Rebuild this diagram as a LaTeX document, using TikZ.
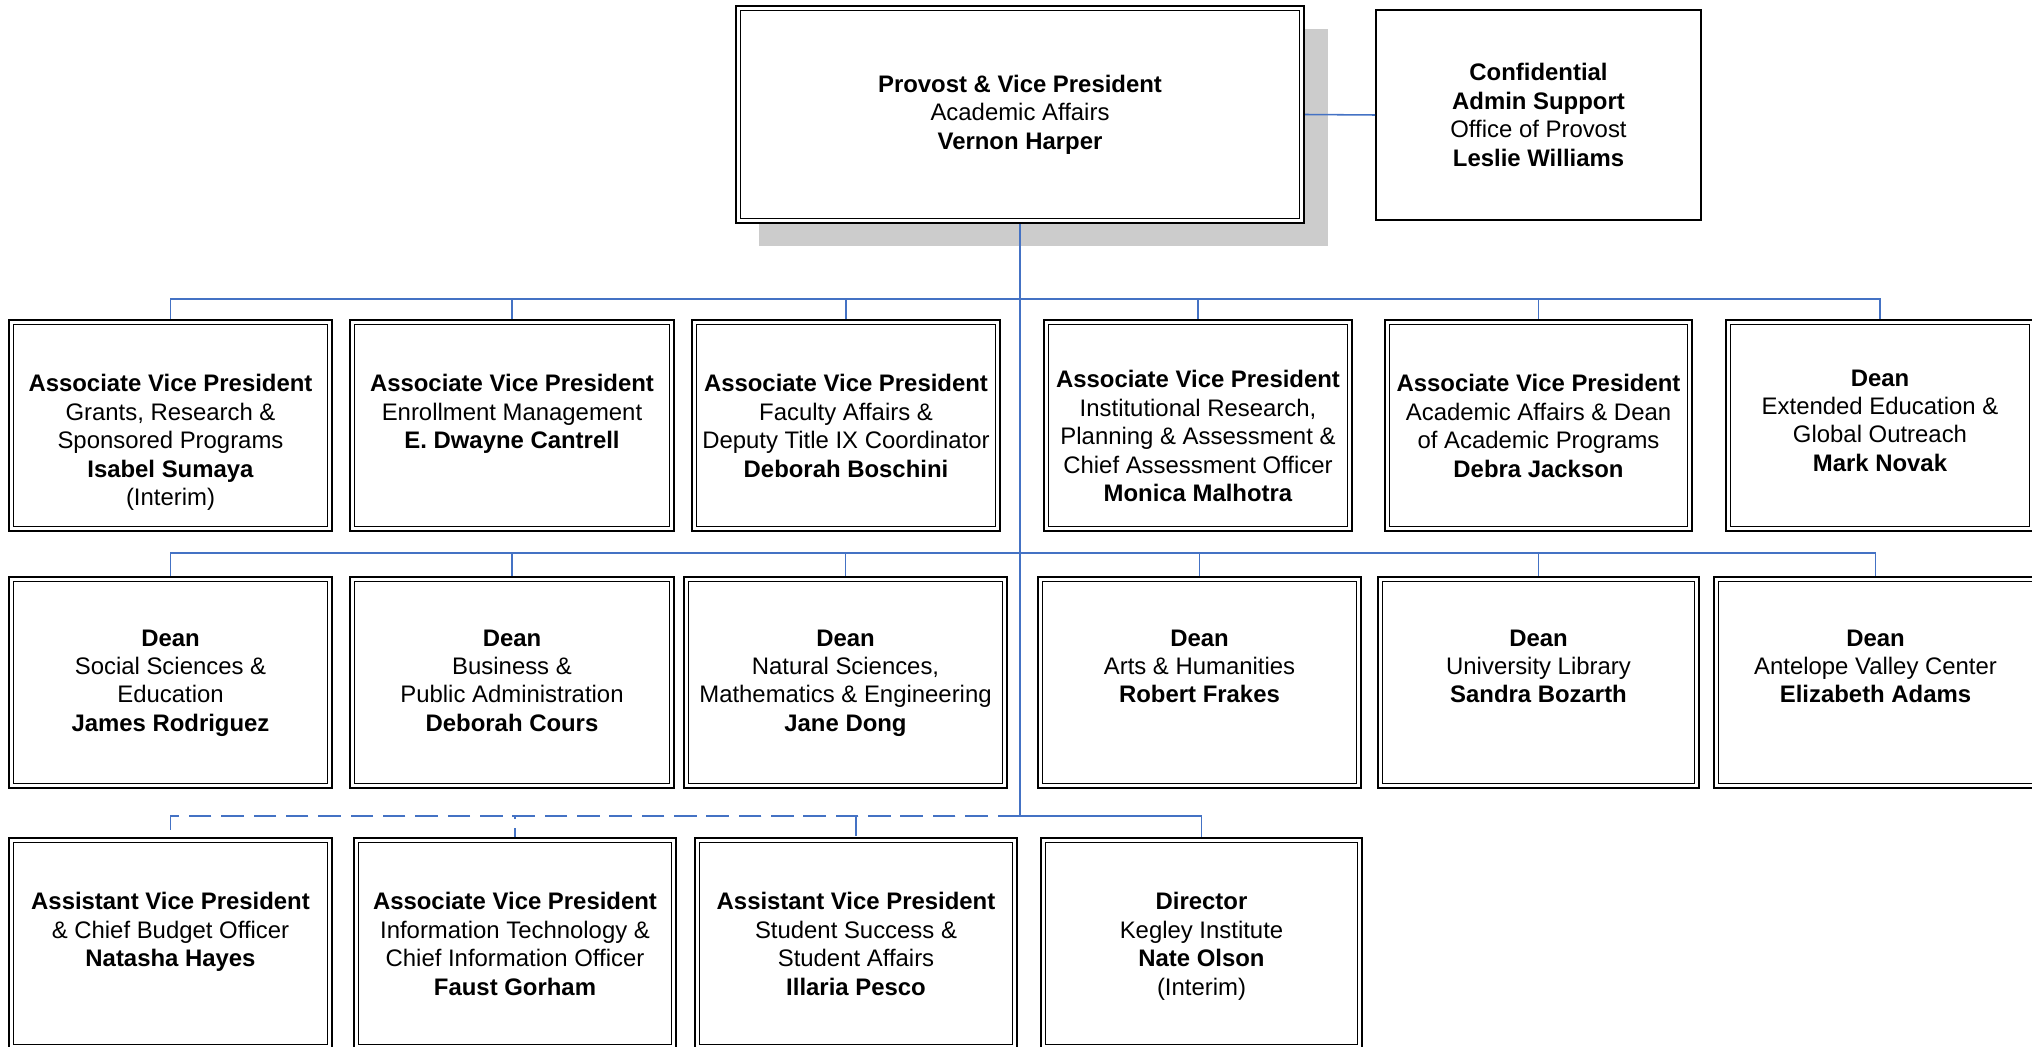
\documentclass[tikz,border=0pt]{standalone}
\usepackage{fontspec}
\setmainfont{Liberation Sans}
\definecolor{linkblue}{HTML}{4472C4}
\tikzset{
  orgbox/.style={draw, line width=0.8pt, fill=white, minimum height=2.6375cm, inner sep=0pt,
    path picture={\draw[line width=0.45pt] ([shift={(1.6pt,1.6pt)}]path picture bounding box.south west)
      rectangle ([shift={(-1.6pt,-1.6pt)}]path picture bounding box.north east);}},
  plainbox/.style={draw, line width=0.6pt, fill=white, align=center, inner sep=0pt,
    font=\fontsize{8.5}{10.1}\selectfont},
  boxtext/.style={anchor=north, align=center, inner sep=0pt, font=\fontsize{8.5}{10.1}\selectfont},
  link/.style={draw=linkblue, line width=0.55pt},
  dashlink/.style={link, dash pattern=on 8pt off 3.5pt}
}
\begin{document}
\begin{tikzpicture}[x=0.0125cm, y=-0.0125cm]
\useasboundingbox (0,0) rectangle (2032,1047);

% Top of the chart
\fill[black!20] (759,29) rectangle (1328,246);
\node[orgbox, align=center, minimum width=7.1cm, minimum height=2.7125cm,
  font=\fontsize{8.5}{10.1}\selectfont] (prov) at (1020,114.5)
  {\textbf{Provost \& Vice President}\\Academic Affairs\\\textbf{Vernon Harper}};
\node[plainbox, minimum width=4.0625cm, minimum height=2.625cm] (conf) at (1538.5,115)
  {\textbf{Confidential}\\\textbf{Admin Support}\\Office of Provost\\\textbf{Leslie Williams}};

% Bus points on the trunk
\coordinate (bus1) at (1020,299);
\coordinate (bus2) at (1020,553);
\coordinate (bus3) at (1020,816);

% First row
\node[orgbox, minimum width=4.04cm] (r1a) at (170.5,425.5) {};
\node[boxtext] (r1a-t) at (170.5,374) {\textbf{Associate Vice President}\\Grants, Research \&\\Sponsored Programs\\\textbf{Isabel Sumaya}\\(Interim)};
\node[orgbox, minimum width=4.05cm] (r1b) at (512,425.5) {};
\node[boxtext] (r1b-t) at (512,374) {\textbf{Associate Vice President}\\Enrollment Management\\\textbf{E. Dwayne Cantrell}};
\node[orgbox, minimum width=3.85cm] (r1c) at (846,425.5) {};
\node[boxtext] (r1c-t) at (846,374) {\textbf{Associate Vice President}\\Faculty Affairs \&\\Deputy Title IX Coordinator\\\textbf{Deborah Boschini}};
\node[orgbox, minimum width=3.85cm] (r1d) at (1198,425.5) {};
\node[boxtext] (r1d-t) at (1198,370) {\textbf{Associate Vice President}\\Institutional Research,\\Planning \& Assessment \&\\Chief Assessment Officer\\\textbf{Monica Malhotra}};
\node[orgbox, minimum width=3.84cm] (r1e) at (1538.5,425.5) {};
\node[boxtext] (r1e-t) at (1538.5,374) {\textbf{Associate Vice President}\\Academic Affairs \& Dean\\of Academic Programs\\\textbf{Debra Jackson}};
\node[orgbox, minimum width=3.85cm] (r1f) at (1880,425.5) {};
\node[boxtext] (r1f-t) at (1880,369) {\textbf{Dean}\\Extended Education \&\\Global Outreach\\\textbf{Mark Novak}};

% Second row
\node[orgbox, minimum width=4.04cm] (r2a) at (170.5,682.5) {};
\node[boxtext] (r2a-t) at (170.5,629) {\textbf{Dean}\\Social Sciences \&\\Education\\\textbf{James Rodriguez}};
\node[orgbox, minimum width=4.05cm] (r2b) at (512,682.5) {};
\node[boxtext] (r2b-t) at (512,629) {\textbf{Dean}\\Business \&\\Public Administration\\\textbf{Deborah Cours}};
\node[orgbox, minimum width=4.04cm] (r2c) at (845.5,682.5) {};
\node[boxtext] (r2c-t) at (845.5,629) {\textbf{Dean}\\Natural Sciences,\\Mathematics \& Engineering\\\textbf{Jane Dong}};
\node[orgbox, minimum width=4.04cm] (r2d) at (1199.5,682.5) {};
\node[boxtext] (r2d-t) at (1199.5,629) {\textbf{Dean}\\Arts \& Humanities\\\textbf{Robert Frakes}};
\node[orgbox, minimum width=4.01cm] (r2e) at (1538.5,682.5) {};
\node[boxtext] (r2e-t) at (1538.5,629) {\textbf{Dean}\\University Library\\\textbf{Sandra Bozarth}};
\node[orgbox, minimum width=4.04cm] (r2f) at (1875.5,682.5) {};
\node[boxtext] (r2f-t) at (1875.5,629) {\textbf{Dean}\\Antelope Valley Center\\\textbf{Elizabeth Adams}};

% Third row
\node[orgbox, minimum width=4.04cm] (r3a) at (170.5,943.5) {};
\node[boxtext] (r3a-t) at (170.5,892) {\textbf{Assistant Vice President}\\\& Chief Budget Officer\\\textbf{Natasha Hayes}};
\node[orgbox, minimum width=4.03cm] (r3b) at (515,943.5) {};
\node[boxtext] (r3b-t) at (515,892) {\textbf{Associate Vice President}\\Information Technology \&\\Chief Information Officer\\\textbf{Faust Gorham}};
\node[orgbox, minimum width=4.03cm] (r3c) at (856,943.5) {};
\node[boxtext] (r3c-t) at (856,892) {\textbf{Assistant Vice President}\\Student Success \&\\Student Affairs\\\textbf{Illaria Pesco}};
\node[orgbox, minimum width=4.01cm] (r3d) at (1201.5,943.5) {};
\node[boxtext] (r3d-t) at (1201.5,892) {\textbf{Director}\\Kegley Institute\\\textbf{Nate Olson}\\(Interim)};

% Connectors
\draw[link] (prov.east) -- (conf.west);
\draw[link] (prov.south) -- (bus3);
\foreach \b in {r1a,r1b,r1c,r1d,r1e,r1f} {
  \draw[link] (\b.north) |- (bus1);
}
\foreach \b in {r2a,r2b,r2c,r2d,r2e,r2f} {
  \draw[link] (\b.north) |- (bus2);
}
\foreach \b in {r3a,r3b,r3c} {
  \draw[dashlink] (bus3) -| (\b.north);
}
\draw[link] (bus3) -| (r3d.north);
\end{tikzpicture}
\end{document}
